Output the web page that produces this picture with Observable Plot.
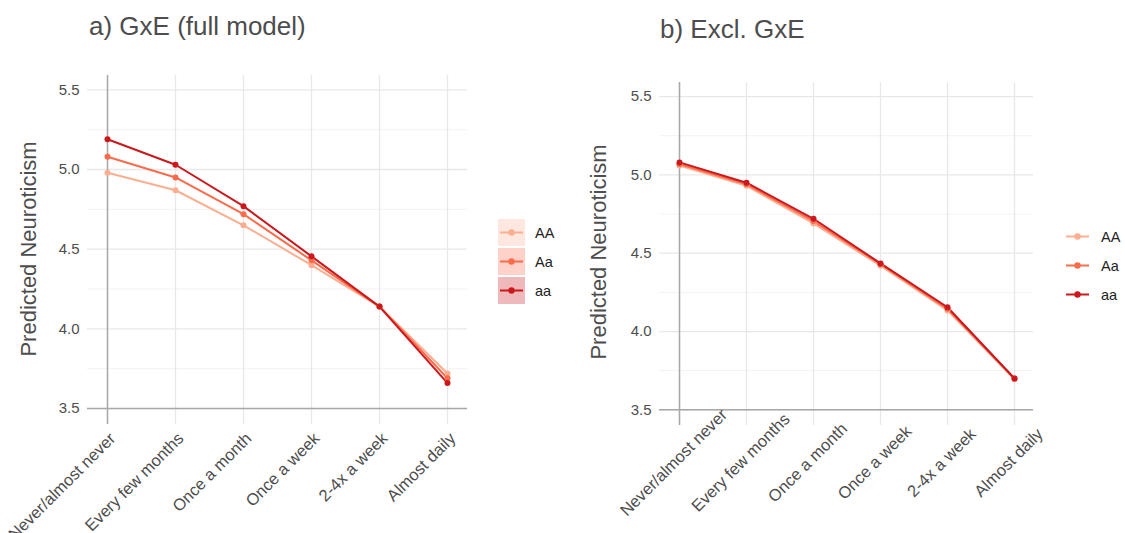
<!DOCTYPE html>
<html><head><meta charset="utf-8">
<script src="https://cdn.jsdelivr.net/npm/d3@7"></script>
<script src="https://cdn.jsdelivr.net/npm/@observablehq/plot@0.6"></script>
<style>
body{margin:0;background:#fff;font-family:"Liberation Sans",Arial,sans-serif;}
#root{position:relative;width:1125px;height:533px;overflow:hidden;background:#fff;}
.title{position:absolute;font-size:26px;color:#4d4d4d;white-space:nowrap;line-height:1;}
.ylab{position:absolute;font-size:22px;color:#4d4d4d;white-space:nowrap;transform:translate(-50%,-50%) rotate(-90deg);line-height:1;}
.panel{position:absolute;}
.panel g[aria-label="y-axis tick label"] text{font-size:15px;fill:#4d4d4d;}
.legend{position:absolute;font-size:14.5px;color:#222;}
.legend .row{display:flex;align-items:center;height:29px;}
.legend .key{width:27px;height:27px;margin-right:10px;position:relative;}
</style></head>
<body><div id="root"></div>
<script>
// ---- data ----
const categories = ["Never/almost never","Every few months","Once a month","Once a week","2-4x a week","Almost daily"];
const genotypes = ["AA","Aa","aa"];
const colors = ["#fcae91","#fb6a4a","#cb181d"];
const keyFills = ["rgba(252,174,145,0.3)","rgba(251,106,74,0.3)","rgba(203,24,29,0.3)"];
// panel a) GxE (full model)
const fullAA = [4.98, 4.87, 4.65, 4.40, 4.14, 3.72];
const fullAa = [5.08, 4.95, 4.72, 4.43, 4.14, 3.69];
const fullaa = [5.19, 5.03, 4.77, 4.455, 4.14, 3.66];
// panel b) Excl. GxE
const exclAA = [5.06, 4.93, 4.69, 4.42, 4.135, 3.695];
const exclAa = [5.07, 4.94, 4.705, 4.43, 4.145, 3.70];
const exclaa = [5.08, 4.95, 4.72, 4.435, 4.155, 3.70];
const yTicks = [3.5, 4.0, 4.5, 5.0, 5.5];
const yMinor = [3.75, 4.25, 4.75, 5.25];
const yDomain = [3.4, 5.59];
const titles = ["a) GxE (full model)", "b) Excl. GxE"];
const yLabel = "Predicted Neuroticism";

function toRows(series){
  const rows=[];
  series.forEach((vals,gi)=>vals.forEach((v,ci)=>rows.push({freq:categories[ci], geno:genotypes[gi], value:v})));
  return rows;
}

const root = document.getElementById("root");

function panel(rows, opts){
  const chart = Plot.plot({
    width: 480, height: 473,
    marginLeft: opts.ml, marginRight: opts.mr, marginTop: opts.mt, marginBottom: opts.mb,
    style: {fontFamily:"Liberation Sans, Arial, sans-serif", fontSize:"15px", color:"#4d4d4d", background:"transparent", overflow:"visible"},
    x: {type:"point", domain: categories, padding: 0.28, axis: null},
    y: {domain: yDomain},
    color: {domain: genotypes, range: colors},
    marks: [
      Plot.ruleY(yMinor, {stroke:"#efefef", strokeWidth:0.8}),
      Plot.ruleY(yTicks, {stroke:"#e8e8e8", strokeWidth:1.3}),
      Plot.ruleX(categories, {stroke:"#e8e8e8", strokeWidth:1.3}),
      Plot.ruleY([yTicks[0]], {stroke:"#a8a8a8", strokeWidth:1.5}),
      Plot.ruleX([categories[0]], {stroke:"#a8a8a8", strokeWidth:1.5}),
      Plot.axisY({ticks: yTicks, tickSize:0, tickPadding:8, tickFormat: d3.format(".1f"), label:null}),
      Plot.text(categories, {x: d => d, frameAnchor:"bottom", rotate:-45, textAnchor: opts.anchor,
        dx: opts.tdx, dy: opts.tdy, fill:"#4d4d4d", fontSize:16.5}),
      Plot.line(rows, {x:"freq", y:"value", z:"geno", stroke:"geno", strokeWidth:2}),
      Plot.dot(rows, {x:"freq", y:"value", fill:"geno", r:3})
    ]
  });
  chart.classList.add("panel");
  chart.style.left = opts.left+"px";
  chart.style.top = "60px";
  root.appendChild(chart);
}

panel(toRows([fullAA, fullAa, fullaa]), {left:0, ml:87, mr:13, mt:15, mb:109, anchor:"end", tdx:9, tdy:15});
panel(toRows([exclAA, exclAa, exclaa]), {left:570, ml:89, mr:17, mt:22, mb:108, anchor:"middle", tdx:-2, tdy:41});

// titles
[[89,13],[660,16]].forEach(([x,y],i)=>{
  const d=document.createElement("div"); d.className="title"; d.textContent=titles[i];
  d.style.left=x+"px"; d.style.top=y+"px"; root.appendChild(d);
});
// y labels
[[29,249],[599,252]].forEach(([x,y])=>{
  const d=document.createElement("div"); d.className="ylab"; d.textContent=yLabel;
  d.style.left=x+"px"; d.style.top=y+"px"; root.appendChild(d);
});
// legends
function legend(x, y, filled){
  const lg=document.createElement("div"); lg.className="legend";
  lg.style.left=x+"px"; lg.style.top=y+"px";
  genotypes.forEach((g,i)=>{
    const row=document.createElement("div"); row.className="row";
    const key=document.createElement("div"); key.className="key";
    if(filled) key.style.background=keyFills[i];
    key.innerHTML=`<svg width="27" height="27"><line x1="2" x2="25" y1="13.5" y2="13.5" stroke="${colors[i]}" stroke-width="2"/><circle cx="13.5" cy="13.5" r="3.2" fill="${colors[i]}"/></svg>`;
    const lab=document.createElement("span"); lab.textContent=g;
    row.appendChild(key); row.appendChild(lab); lg.appendChild(row);
  });
  root.appendChild(lg);
}
legend(498, 218, true);
legend(1064, 222, false);
</script>
</body></html>
